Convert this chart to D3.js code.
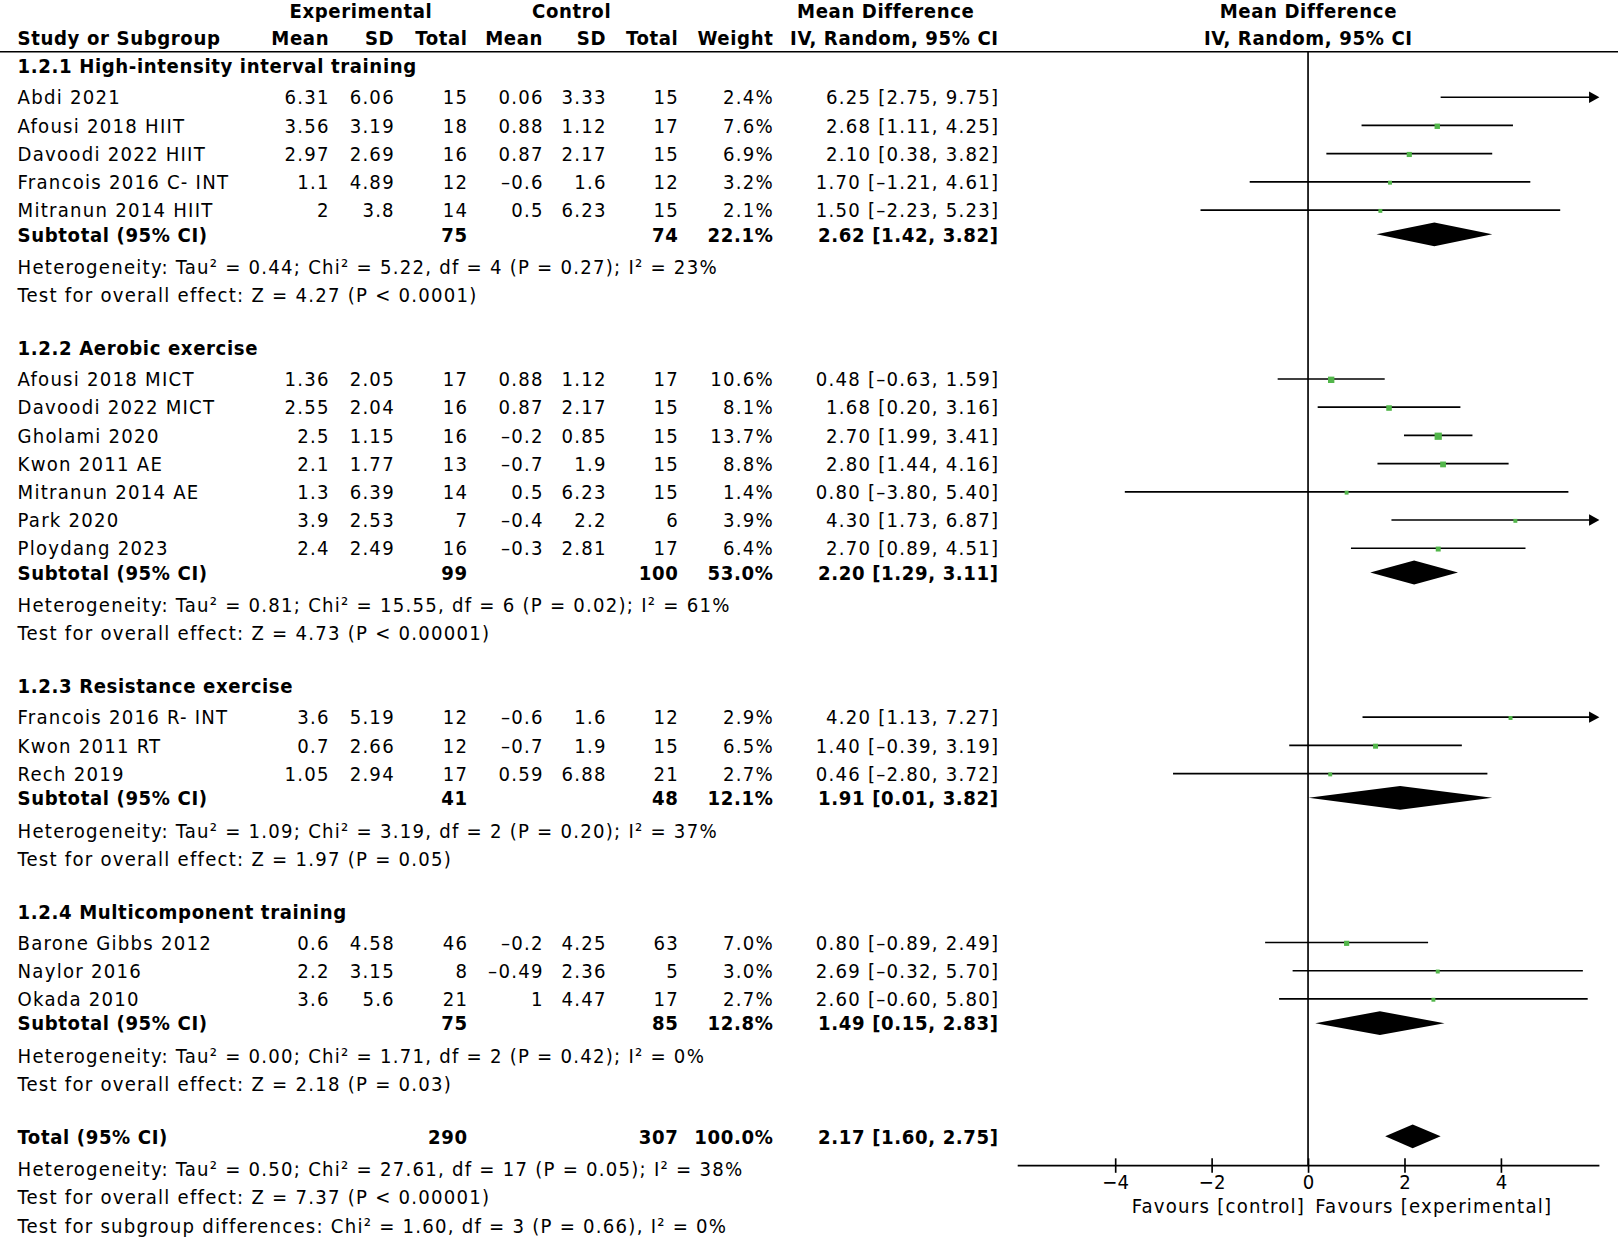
<!DOCTYPE html>
<html>
<head>
<meta charset="utf-8">
<script src="https://cdn.jsdelivr.net/npm/d3@7"></script>
<style>
  body { margin: 0; background: #fff; }
  svg { display: block; }
  text { font-family: "DejaVu Sans Condensed", "DejaVu Sans", sans-serif; font-size: 19.5px; fill: #000; letter-spacing: 1.2px; }
  text.b { font-weight: bold; letter-spacing: 0.6px; }
  .tick text { letter-spacing: 0; }
</style>
</head>
<body>
<svg></svg>
<script>
// ---- data ----
const groupTitles = [
  "1.2.1 High-intensity interval training",
  "1.2.2 Aerobic exercise",
  "1.2.3 Resistance exercise",
  "1.2.4 Multicomponent training"
];
const studies = [
  "Abdi 2021", "Afousi 2018 HIIT", "Davoodi 2022 HIIT", "Francois 2016 C- INT", "Mitranun 2014 HIIT",
  "Afousi 2018 MICT", "Davoodi 2022 MICT", "Gholami 2020", "Kwon 2011 AE", "Mitranun 2014 AE", "Park 2020", "Ploydang 2023",
  "Francois 2016 R- INT", "Kwon 2011 RT", "Rech 2019",
  "Barone Gibbs 2012", "Naylor 2016", "Okada 2010"
];
const studyGroup = [0, 0, 0, 0, 0, 1, 1, 1, 1, 1, 1, 1, 2, 2, 2, 3, 3, 3];
const expMean = [6.31, 3.56, 2.97, 1.1, 2, 1.36, 2.55, 2.5, 2.1, 1.3, 3.9, 2.4, 3.6, 0.7, 1.05, 0.6, 2.2, 3.6];
const expSD   = [6.06, 3.19, 2.69, 4.89, 3.8, 2.05, 2.04, 1.15, 1.77, 6.39, 2.53, 2.49, 5.19, 2.66, 2.94, 4.58, 3.15, 5.6];
const expN    = [15, 18, 16, 12, 14, 17, 16, 16, 13, 14, 7, 16, 12, 12, 17, 46, 8, 21];
const ctlMean = [0.06, 0.88, 0.87, -0.6, 0.5, 0.88, 0.87, -0.2, -0.7, 0.5, -0.4, -0.3, -0.6, -0.7, 0.59, -0.2, -0.49, 1];
const ctlSD   = [3.33, 1.12, 2.17, 1.6, 6.23, 1.12, 2.17, 0.85, 1.9, 6.23, 2.2, 2.81, 1.6, 1.9, 6.88, 4.25, 2.36, 4.47];
const ctlN    = [15, 17, 15, 12, 15, 17, 15, 15, 15, 15, 6, 17, 12, 15, 21, 63, 5, 17];
const weight  = [2.4, 7.6, 6.9, 3.2, 2.1, 10.6, 8.1, 13.7, 8.8, 1.4, 3.9, 6.4, 2.9, 6.5, 2.7, 7.0, 3.0, 2.7];
const md      = [6.25, 2.68, 2.10, 1.70, 1.50, 0.48, 1.68, 2.70, 2.80, 0.80, 4.30, 2.70, 4.20, 1.40, 0.46, 0.80, 2.69, 2.60];
const ciLow   = [2.75, 1.11, 0.38, -1.21, -2.23, -0.63, 0.20, 1.99, 1.44, -3.80, 1.73, 0.89, 1.13, -0.39, -2.80, -0.89, -0.32, -0.60];
const ciHigh  = [9.75, 4.25, 3.82, 4.61, 5.23, 1.59, 3.16, 3.41, 4.16, 5.40, 6.87, 4.51, 7.27, 3.19, 3.72, 2.49, 5.70, 5.80];

const subExpN   = [75, 99, 41, 75];
const subCtlN   = [74, 100, 48, 85];
const subWeight = [22.1, 53.0, 12.1, 12.8];
const subMD     = [2.62, 2.20, 1.91, 1.49];
const subLow    = [1.42, 1.29, 0.01, 0.15];
const subHigh   = [3.82, 3.11, 3.82, 2.83];
const hetText = [
  "Heterogeneity: Tau² = 0.44; Chi² = 5.22, df = 4 (P = 0.27); I² = 23%",
  "Heterogeneity: Tau² = 0.81; Chi² = 15.55, df = 6 (P = 0.02); I² = 61%",
  "Heterogeneity: Tau² = 1.09; Chi² = 3.19, df = 2 (P = 0.20); I² = 37%",
  "Heterogeneity: Tau² = 0.00; Chi² = 1.71, df = 2 (P = 0.42); I² = 0%"
];
const effectText = [
  "Test for overall effect: Z = 4.27 (P < 0.0001)",
  "Test for overall effect: Z = 4.73 (P < 0.00001)",
  "Test for overall effect: Z = 1.97 (P = 0.05)",
  "Test for overall effect: Z = 2.18 (P = 0.03)"
];
const totalExpN = 290, totalCtlN = 307, totalWeight = 100.0;
const totalMD = 2.17, totalLow = 1.60, totalHigh = 2.75;
const totalNotes = [
  "Heterogeneity: Tau² = 0.50; Chi² = 27.61, df = 17 (P = 0.05); I² = 38%",
  "Test for overall effect: Z = 7.37 (P < 0.00001)",
  "Test for subgroup differences: Chi² = 1.60, df = 3 (P = 0.66), I² = 0%"
];
const axisTicks = [-4, -2, 0, 2, 4];
const favourLeft = "Favours [control]", favourRight = "Favours [experimental]";

// ---- layout (drawn in a 1566 x 1198 box, scaled to the window) ----
const W = 1566, H = 1198;
const svg = d3.select("svg")
  .attr("width", 1618).attr("height", 1238)
  .attr("viewBox", `0 0 ${W} ${H}`);

const col = { name: 17, eMean: 318, eSD: 381, eN: 452, cMean: 525, cSD: 586, cN: 656, w: 748, ci: 966 };
const axisY = 1128;
const x = d3.scaleLinear().domain([-6, 6]).range([986, 1546]);
const sq = d3.scaleSqrt().domain([0, 13.7]).range([0, 7]);

const num = v => String(v).replace("-", "–");
const fix = v => v.toFixed(2).replace("-", "–");
const ciStr = (m, l, h) => `${fix(m)} [${fix(l)}, ${fix(h)}]`;

// row positions
const rows = [];
let y = 64;
groupTitles.forEach((g, gi) => {
  rows.push({ type: "group", y, g: gi });
  y += 30;
  d3.range(studies.length).filter(i => studyGroup[i] === gi).forEach((i, k) => {
    if (k) y += 27.3;
    rows.push({ type: "study", y, i });
  });
  y += 23.5; rows.push({ type: "subtotal", y, g: gi });
  y += 31.5; rows.push({ type: "het", y, g: gi });
  y += 27;   rows.push({ type: "effect", y, g: gi });
  y += 51.5;
});
y -= 0.5;
rows.push({ type: "total", y });
y += 31.5; rows.push({ type: "note", y, k: 0 });
y += 27;   rows.push({ type: "note", y, k: 1 });
y += 28;   rows.push({ type: "note", y, k: 2 });

// letter-spacing leaves a trailing gap; shift end-anchored text to compensate
function txt(g, xx, yy, s, anchor, bold) {
  const ls = bold ? 0.6 : 1.2;
  const shift = anchor === "end" ? ls : anchor === "middle" ? ls / 2 : 0;
  return g.append("text")
    .attr("x", xx + shift).attr("y", yy).attr("dy", "0.36em")
    .attr("text-anchor", anchor || "start")
    .attr("class", bold ? "b" : null)
    .text(s);
}

// headers
const head = svg.append("g");
txt(head, 349, 10, "Experimental", "middle", true);
txt(head, 553, 10, "Control", "middle", true);
txt(head, 857, 10, "Mean Difference", "middle", true);
txt(head, x(0), 10, "Mean Difference", "middle", true);
txt(head, col.name, 36, "Study or Subgroup", "start", true);
[["Mean", col.eMean], ["SD", col.eSD], ["Total", col.eN], ["Mean", col.cMean], ["SD", col.cSD],
 ["Total", col.cN], ["Weight", col.w], ["IV, Random, 95% CI", col.ci]]
  .forEach(([s, xx]) => txt(head, xx, 36, s, "end", true));
txt(head, x(0), 36, "IV, Random, 95% CI", "middle", true);
svg.append("line").attr("x1", 0).attr("x2", W).attr("y1", 50).attr("y2", 50)
  .attr("stroke", "#000").attr("stroke-width", 1.6);

// table text
const tbl = svg.append("g");
rows.forEach(r => {
  if (r.type === "group") txt(tbl, col.name, r.y, groupTitles[r.g], "start", true);
  if (r.type === "study") {
    const i = r.i;
    txt(tbl, col.name, r.y, studies[i]);
    txt(tbl, col.eMean, r.y, num(expMean[i]), "end");
    txt(tbl, col.eSD, r.y, num(expSD[i]), "end");
    txt(tbl, col.eN, r.y, expN[i], "end");
    txt(tbl, col.cMean, r.y, num(ctlMean[i]), "end");
    txt(tbl, col.cSD, r.y, num(ctlSD[i]), "end");
    txt(tbl, col.cN, r.y, ctlN[i], "end");
    txt(tbl, col.w, r.y, weight[i].toFixed(1) + "%", "end");
    txt(tbl, col.ci, r.y, ciStr(md[i], ciLow[i], ciHigh[i]), "end");
  }
  if (r.type === "subtotal") {
    const g = r.g;
    txt(tbl, col.name, r.y, "Subtotal (95% CI)", "start", true);
    txt(tbl, col.eN, r.y, subExpN[g], "end", true);
    txt(tbl, col.cN, r.y, subCtlN[g], "end", true);
    txt(tbl, col.w, r.y, subWeight[g].toFixed(1) + "%", "end", true);
    txt(tbl, col.ci, r.y, ciStr(subMD[g], subLow[g], subHigh[g]), "end", true);
  }
  if (r.type === "het") txt(tbl, col.name, r.y, hetText[r.g]);
  if (r.type === "effect") txt(tbl, col.name, r.y, effectText[r.g]);
  if (r.type === "total") {
    txt(tbl, col.name, r.y, "Total (95% CI)", "start", true);
    txt(tbl, col.eN, r.y, totalExpN, "end", true);
    txt(tbl, col.cN, r.y, totalCtlN, "end", true);
    txt(tbl, col.w, r.y, totalWeight.toFixed(1) + "%", "end", true);
    txt(tbl, col.ci, r.y, ciStr(totalMD, totalLow, totalHigh), "end", true);
  }
  if (r.type === "note") txt(tbl, col.name, r.y, totalNotes[r.k]);
});

// forest plot
const plot = svg.append("g");
plot.append("line")
  .attr("x1", x(0)).attr("x2", x(0)).attr("y1", 50).attr("y2", axisY)
  .attr("stroke", "#000").attr("stroke-width", 1.6);

const [dMin, dMax] = x.domain();
const studyRows = rows.filter(r => r.type === "study");
studyRows.forEach(r => {
  const i = r.i;
  const lo = Math.max(ciLow[i], dMin), hi = Math.min(ciHigh[i], dMax);
  const x2 = ciHigh[i] > dMax ? x(dMax) - 6 : x(hi);
  plot.append("line")
    .attr("x1", x(lo)).attr("x2", x2).attr("y1", r.y).attr("y2", r.y)
    .attr("stroke", "#000").attr("stroke-width", 1.6);
  if (ciHigh[i] > dMax) {
    const tip = x(dMax) + 2;
    plot.append("path")
      .attr("d", `M${tip},${r.y}L${tip - 10},${r.y - 5.5}L${tip - 10},${r.y + 5.5}Z`)
      .attr("fill", "#000");
  }
  if (md[i] <= dMax) {
    const s = Math.max(3.8, sq(weight[i]));
    plot.append("rect")
      .attr("x", x(md[i]) - s / 2).attr("y", r.y + 0.8 - s / 2)
      .attr("width", s).attr("height", s)
      .attr("fill", "#52b64a");
  }
});

function diamond(yy, m, l, h) {
  plot.append("path")
    .attr("d", `M${x(l)},${yy}L${x(m)},${yy - 11.5}L${x(h)},${yy}L${x(m)},${yy + 11.5}Z`)
    .attr("fill", "#000");
}
rows.filter(r => r.type === "subtotal").forEach(r => diamond(r.y, subMD[r.g], subLow[r.g], subHigh[r.g]));
rows.filter(r => r.type === "total").forEach(r => diamond(r.y, totalMD, totalLow, totalHigh));

// axis
const axis = plot.append("g")
  .attr("transform", `translate(0,${axisY})`)
  .call(d3.axisBottom(x).tickValues(axisTicks).tickSizeOuter(0).tickSizeInner(7).tickPadding(2));
axis.select(".domain").attr("stroke-width", 1.6).attr("d", `M${x(dMin) - 1},0H${x(dMax) + 2}`);
axis.selectAll(".tick line").attr("y1", -7).attr("y2", 7).attr("stroke-width", 1.6);
axis.selectAll(".tick text")
  .style("font-family", '"DejaVu Sans Condensed", "DejaVu Sans", sans-serif')
  .style("font-size", "19.5px").attr("fill", "#000");
axis.attr("font-size", null).attr("font-family", null);

txt(plot, x(0) - 4, 1167, favourLeft, "end");
txt(plot, x(0) + 7, 1167, favourRight, "start");
</script>
</body>
</html>
